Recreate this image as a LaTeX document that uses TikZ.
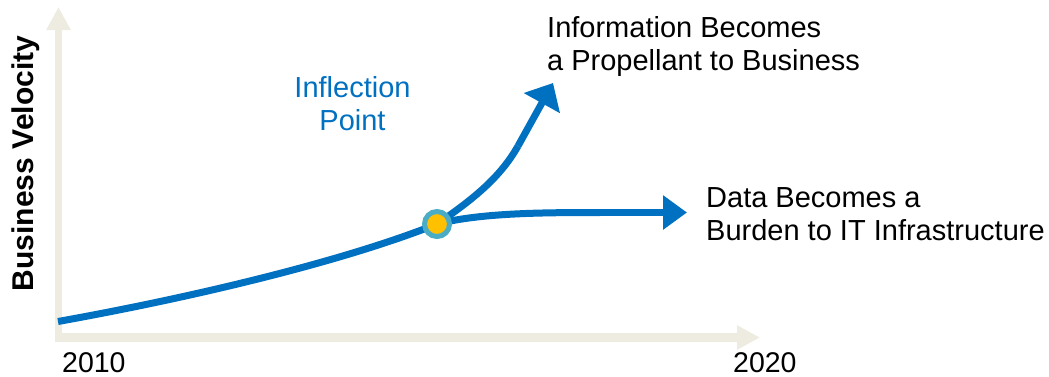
\documentclass[tikz,border=0pt]{standalone}
\usepackage{fontspec}
\setmainfont{Liberation Sans}
\usetikzlibrary{arrows.meta}
\definecolor{axisbeige}{HTML}{EEECE1}
\definecolor{curveblue}{HTML}{0070C0}
\definecolor{ringblue}{HTML}{4BACC6}
\definecolor{dotyellow}{HTML}{FFC000}
\begin{document}
\begin{tikzpicture}[x=1pt,y=-1pt,
  axisline/.style={draw=axisbeige},
  curveline/.style={draw=curveblue,line width=7pt},
  dot/.style={circle,fill=dotyellow,draw=ringblue,line width=5pt,minimum size=25pt,inner sep=0pt},
  label/.style={font=\fontsize{29}{33}\selectfont,inner sep=0pt,align=left},
  yearlabel/.style={font=\fontsize{28.5}{33}\selectfont,inner sep=0pt}]
\useasboundingbox (0,0) rectangle (1049,376);
% axes
\coordinate (origin) at (58.5,342);
\coordinate (ytip) at (58.5,7);
\coordinate (xorigin) at (55,337.5);
\coordinate (xtip) at (760,337.5);
\draw[axisline,line width=7pt,-{Triangle[length=23pt,width=23pt]}] (origin) -- (ytip);
\draw[axisline,line width=9pt,-{Triangle[length=23pt,width=23pt]}] (xorigin) -- (xtip);
% curve
\coordinate (start) at (58,321.5);
\coordinate (ipc) at (437,224);
\coordinate (upbend) at (518,146);
\coordinate (uptip) at (553,83);
\coordinate (flat) at (600,212.5);
\coordinate (righttip) at (687,212.5);
\draw[curveline] (start) .. controls (200,296) and (347,260) .. (ipc);
\draw[curveline] (ipc) .. controls (472,200) and (500,178) .. (upbend);
\draw[curveline,-{Triangle[length=23pt,width=40pt]}] (upbend) -- (uptip);
\draw[curveline] (ipc) .. controls (480,213) and (540,212.5) .. (flat);
\draw[curveline,-{Triangle[length=24pt,width=33pt]}] (flat) -- (righttip);
\node[dot] (ip) at (ipc) {};
% labels
\node[label,anchor=base west] (info) at (547,70) {Information Becomes\\a Propellant to Business};
\node[label,anchor=base west] (data) at (706,240) {Data Becomes a\\Burden to IT Infrastructure};
\node[label,align=center,text=curveblue,anchor=base] (infl) at (352.5,130) {Inflection\\Point};
\node[yearlabel,anchor=base west] (y2010) at (62,372) {2010};
\node[yearlabel,anchor=base west] (y2020) at (733,372) {2020};
\node[yearlabel,font=\fontsize{30}{33}\selectfont\bfseries,rotate=90,anchor=base] (yaxis) at (33,163.5) {Business Velocity};
\end{tikzpicture}
\end{document}
